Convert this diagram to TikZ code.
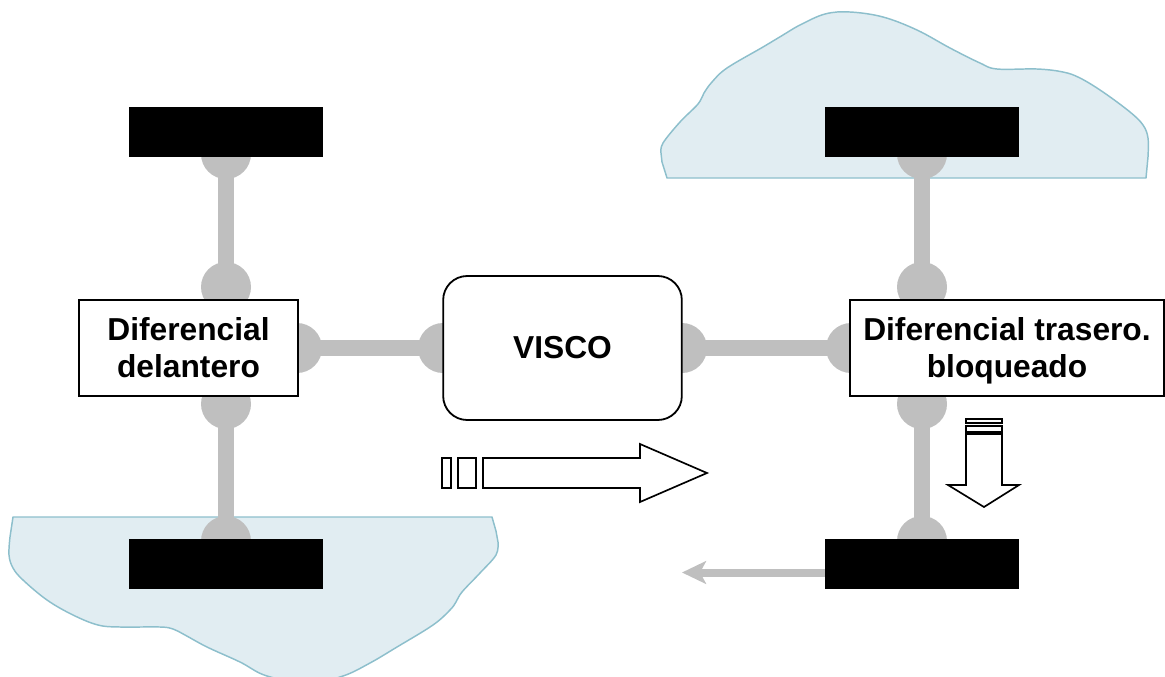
\documentclass[tikz,border=0pt]{standalone}
\usepackage{fontspec}
\setmainfont{Liberation Sans}
\usetikzlibrary{arrows.meta}
\definecolor{shaftgray}{HTML}{BFBFBF}
\definecolor{lakefill}{HTML}{E1EDF2}
\definecolor{lakeline}{HTML}{8DBFCC}
\tikzset{
  lake/.style={fill=lakefill,draw=lakeline,line width=1.1pt,line join=round},
  joint/.style={circle,fill=shaftgray,inner sep=0pt,minimum size=37.5pt},
  shaft/.style={draw=shaftgray,line width=12pt},
  wheel/.style={rectangle,fill=black,inner sep=0pt,minimum width=145.5pt,minimum height=37.5pt},
  label/.style={font=\fontsize{23.8pt}{27.9pt}\selectfont\bfseries,align=center,inner sep=0pt,text=black},
  diffbox/.style={rectangle,draw=black,fill=white,line width=1.5pt,minimum height=72pt},
  viscobox/.style={label,rectangle,rounded corners=18pt,draw=black,fill=white,line width=1.35pt,minimum width=179pt,minimum height=108pt},
  motion/.style={draw=black,fill=white,line width=1.25pt,line join=miter},
  slip/.style={draw=shaftgray,line width=6pt,-{Stealth[length=18pt,width=17pt,inset=4.5pt]}}
}
\begin{document}
\begin{tikzpicture}[x=0.75pt,y=-0.75pt]
\useasboundingbox (0,0) rectangle (1165,676);
\clip (0,0) rectangle (1165,676);
% water patches
\draw[lake] (13,517) -- (492,517) -- (496,531)
  -- plot[smooth,tension=0.6] coordinates {(498,542) (496,555) (480,573) (462,592) (456,602) (450,610) (433,625) (397,647) (370,663) (343,676) (309,683) (267,676) (240,662) (207,647) (185,635) (173,629) (160,627) (120,627) (98,625) (73,615) (47,600) (23,580) (13,568) (9,555) (10,537)} -- cycle;
\draw[lake] (1146,178) -- (667,178) -- (662,162)
  -- plot[smooth,tension=0.6] coordinates {(661,153) (663,143) (680,122) (698,104) (704,93) (712,82) (727,68) (763,47) (783,35) (800,25) (825,14) (850,12) (883,17) (917,30) (950,48) (980,63) (997,69) (1037,69) (1063,72) (1080,78) (1103,92) (1130,112) (1143,125) (1148,138) (1148,157)} -- cycle;
% joints
\node[joint] (jTLa) at (226,154) {};
\node[joint] (jTLb) at (226,287) {};
\node[joint] (jBLa) at (226,404) {};
\node[joint] (jBLb) at (226,541) {};
\node[joint] (jTRa) at (922,154) {};
\node[joint] (jTRb) at (922,287) {};
\node[joint] (jBRa) at (922,404) {};
\node[joint] (jBRb) at (922,541) {};
\node[joint] (jLa) at (297,348) {};
\node[joint] (jLb) at (443,348) {};
\node[joint] (jRa) at (682,348) {};
\node[joint] (jRb) at (851,348) {};
% shafts
\draw[shaft] (jTLa.center) -- (jTLb.center);
\draw[shaft] (jBLa.center) -- (jBLb.center);
\draw[shaft] (jTRa.center) -- (jTRb.center);
\draw[shaft] (jBRa.center) -- (jBRb.center);
\draw[shaft] (jLa.center) -- (jLb.center);
\draw[shaft] (jRa.center) -- (jRb.center);
% wheels
\node[wheel] (wTL) at (226,132) {};
\node[wheel] (wTR) at (922,132) {};
\node[wheel] (wBL) at (226,564) {};
\node[wheel] (wBR) at (922,564) {};
% boxes
\node[diffbox,label,minimum width=164pt] (dL) at (188.5,348) {Diferencial\\delantero};
\node[diffbox,label,minimum width=235.5pt] (dR) at (1007,348) {Diferencial trasero.\\blo\smash{q}ueado};
\node[viscobox] (visco) at (562.5,348) {VISCO};
% big right arrow
\draw[motion] (442,458) rectangle (451,488);
\draw[motion] (458,458) rectangle (476,488);
\draw[motion] (483,458) -- (640,458) -- (640,444) -- (707,473) -- (640,502) -- (640,488) -- (483,488) -- cycle;
% down arrow
\draw[motion] (966,419) rectangle (1002,423);
\draw[motion] (966,426) rectangle (1002,432);
\draw[motion] (966,434) -- (1002,434) -- (1002,485) -- (1019,485) -- (984,507) -- (948,485) -- (966,485) -- cycle;
% slip arrow
\coordinate (slipEnd) at (682,572.5);
\draw[slip] (wBR.west |- slipEnd) -- (slipEnd);
\end{tikzpicture}
\end{document}
